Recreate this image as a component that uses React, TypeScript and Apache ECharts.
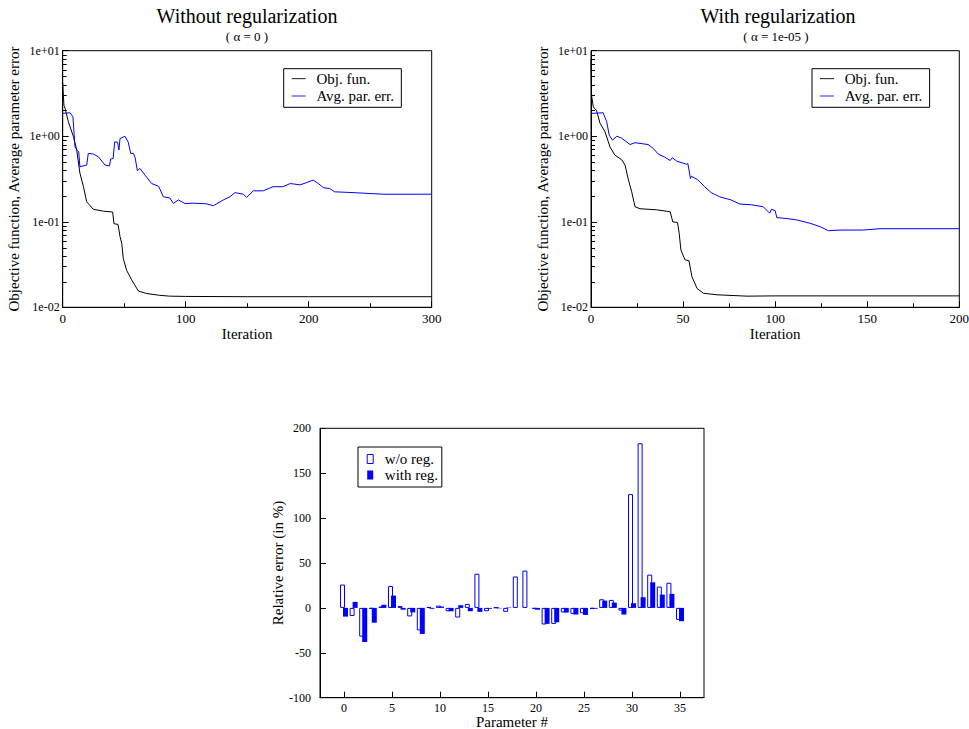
import React, { useEffect, useRef } from 'react';
import * as echarts from 'echarts';

const FONT = '"Liberation Serif", "Times New Roman", Times, serif';

// ---- Top-left: without regularization ----
const objIterA = [0, 1, 2, 4.6, 8.6, 11.4, 14, 16.8, 19.5, 24.9, 33, 40.6, 41.7, 45, 46.6, 48, 49.3, 52, 56, 61.5, 68, 79, 87, 100, 150, 200, 300];
const objValA = [4.2, 2.3, 2.1, 1.48, 1.0, 0.69, 0.37, 0.26, 0.171, 0.14, 0.133, 0.13, 0.095, 0.093, 0.067, 0.056, 0.037, 0.027, 0.021, 0.0155, 0.0145, 0.0138, 0.0135, 0.0134, 0.0133, 0.0133, 0.0133];
const errIterA = [0, 6, 8.3, 10, 11.9, 13, 14, 19.5, 20.8, 24.9, 29, 34.4, 38, 39, 41, 42.3, 44.6, 45.7, 46.6, 50.6, 53.3, 55.3, 57.5, 58.9, 60.7, 62.8, 67, 72.3, 78, 81.8, 87, 90, 94, 99.5, 106, 117, 122.5, 130.6, 136, 140, 146.8, 149.6, 155, 163, 171, 179, 185, 193, 198, 203.7, 207.8, 212, 217, 221, 233.6, 260.6, 300];
const errValA = [1.85, 1.88, 1.69, 0.75, 0.68, 0.66, 0.44, 0.46, 0.63, 0.62, 0.575, 0.46, 0.45, 0.54, 0.55, 0.86, 0.85, 0.69, 0.94, 1.0, 0.85, 0.63, 0.63, 0.56, 0.395, 0.42, 0.35, 0.28, 0.26, 0.196, 0.19, 0.164, 0.18, 0.163, 0.165, 0.162, 0.154, 0.18, 0.196, 0.219, 0.21, 0.193, 0.23, 0.23, 0.257, 0.257, 0.28, 0.27, 0.286, 0.307, 0.28, 0.25, 0.245, 0.224, 0.22, 0.21, 0.21];

// ---- Top-right: with regularization ----
const objIterB = [0, 0.3, 1.25, 3, 4.9, 7.6, 10.3, 13, 16.7, 18.5, 20.3, 22.1, 23.9, 26.6, 35.6, 43, 44.4, 47, 47.9, 48.8, 51, 53.2, 54.8, 57.6, 61, 68.5, 84.7, 100, 200];
const objValB = [8, 3.0, 2.2, 2.0, 1.42, 1.13, 0.75, 0.6, 0.53, 0.46, 0.31, 0.224, 0.15, 0.142, 0.138, 0.131, 0.1, 0.098, 0.073, 0.047, 0.036, 0.035, 0.0228, 0.0166, 0.0146, 0.014, 0.0135, 0.0136, 0.0136];
const errIterB = [0, 6.6, 8.5, 9.9, 11.7, 14, 16.6, 21.2, 23.9, 31, 33.8, 36.5, 40, 43, 44.2, 46.6, 52, 52.6, 54, 54.5, 58, 61.7, 65.3, 69.8, 76, 80.9, 87, 93.5, 97, 98, 100, 100.9, 108, 111.7, 119, 124.5, 128.9, 135.2, 147.9, 157, 200];
const errValB = [1.85, 1.88, 1.48, 1.03, 0.9, 1.0, 0.95, 0.8, 0.84, 0.8, 0.72, 0.62, 0.57, 0.52, 0.56, 0.51, 0.47, 0.48, 0.32, 0.34, 0.31, 0.257, 0.219, 0.196, 0.18, 0.161, 0.158, 0.15, 0.126, 0.14, 0.135, 0.112, 0.108, 0.105, 0.096, 0.0875, 0.0786, 0.08, 0.08, 0.083, 0.083];

// ---- Bottom: relative error per parameter ----
const paramIds = [0, 1, 2, 3, 4, 5, 6, 7, 8, 9, 10, 11, 12, 13, 14, 15, 16, 17, 18, 19, 20, 21, 22, 23, 24, 25, 26, 27, 28, 29, 30, 31, 32, 33, 34, 35];
const woReg = [26, -9, -32, -1, 1.5, 24.4, 2, -9.5, -25, 1, 2.5, -3.7, -10.7, 4.4, 38, -3.7, 0.5, -4.4, 35, 41.5, -1, -18.5, -17.8, -5, -6.7, -6, -1, 9.6, 8.9, -3, 126.7, 183.3, 37, 23.7, 28, -13.3];
const withReg = [-9.7, 6.7, -38, -16.5, 3.5, 13.7, -2, -5, -29, -1, 1.5, -3.7, 3, -3.7, -4.4, -1, -0.5, 0.5, 0, 0, -2, -17.8, -16, -5.2, -7.4, -7.8, -1, 8.1, 5.9, -7.4, 5.2, 11.9, 28.5, 14.8, 15.6, -14.8];
const catMin = -2;
const catMax = 37;

// minor tick values of the log axes (2..9 within each decade)
const logMinorValues = [0.02, 0.03, 0.04, 0.05, 0.06, 0.07, 0.08, 0.09, 0.2, 0.3, 0.4, 0.5, 0.6, 0.7, 0.8, 0.9, 2, 3, 4, 5, 6, 7, 8, 9];

const pairs = (xs: number[], ys: number[]) => xs.map((x, i) => [x, ys[i]]);

const cats: string[] = [];
for (let c = catMin; c <= catMax; c++) cats.push(String(c));
const barData = (vals: number[]) =>
  cats.map((c) => {
    const idx = paramIds.indexOf(Number(c));
    return idx >= 0 ? vals[idx] : '-';
  });

const fmtExp = (v: number) => {
  const e = Math.round(Math.log10(v));
  return '1e' + (e < 0 ? '-' : '+') + String(Math.abs(e)).padStart(2, '0');
};

const txt = (size: number) => ({ fontFamily: FONT, fontSize: size, color: '#000', fontWeight: 'normal' as const });
const black = { color: '#000', width: 1 };

const GRID_A = { left: 62.7, top: 50.7, width: 369, height: 256.6 };
const GRID_B = { left: 591, top: 50.7, width: 368.3, height: 256.6 };
const GRID_C = { left: 320, top: 428.3, width: 384, height: 269.4 };

function lineAxes(g: number, xMax: number, xInt: number) {
  const x = {
    type: 'value', gridIndex: g, min: 0, max: xMax, interval: xInt,
    axisLine: { show: true, onZero: false, lineStyle: black },
    axisTick: { show: true, inside: true, length: 6, lineStyle: black },
    minorTick: { show: true, splitNumber: 2, length: 4, lineStyle: black },
    axisLabel: { ...txt(13), margin: 5 },
    splitLine: { show: false }, minorSplitLine: { show: false },
    name: 'Iteration', nameLocation: 'middle', nameGap: 15, nameTextStyle: txt(15),
  };
  const y = {
    type: 'log', logBase: 10, gridIndex: g, min: 0.01, max: 10,
    axisLine: { show: true, onZero: false, lineStyle: black },
    axisTick: { show: true, inside: true, length: 6, lineStyle: black },
    axisLabel: { ...txt(12), margin: 3, formatter: fmtExp },
    splitLine: { show: false },
    name: 'Objective function, Average parameter error', nameLocation: 'middle', nameGap: 41, nameRotate: 90,
    nameTextStyle: txt(15),
  };
  return { x, y };
}

export default function App() {
  const ref = useRef<HTMLDivElement>(null);
  useEffect(() => {
    if (!ref.current) return;
    const chart = echarts.init(ref.current, null, { renderer: 'svg' });
    const A = lineAxes(0, 300, 100);
    const B = lineAxes(1, 200, 50);
    const catShow = (_i: number, v: string) => {
      const n = Number(v);
      return n >= 0 && n <= 35 && n % 5 === 0;
    };
    const lineIcon = 'path://M0,0H16V1H0Z';
    const lineLegend = (left: number) => ({
      left, top: 68.7, orient: 'vertical', selectedMode: false,
      borderColor: '#000', borderWidth: 1, padding: [2.5, 7.3, 3.8, 8], itemGap: 2.3,
      itemWidth: 14, itemHeight: 1.2,
      textStyle: { ...txt(15), padding: [0, 0, 0, 5.7] },
      data: [
        { name: 'Obj. fun.', icon: lineIcon, itemStyle: { color: '#000', borderWidth: 0 } },
        { name: 'Avg. par. err.', icon: lineIcon, itemStyle: { color: '#0000ff', borderWidth: 0 } },
      ],
    });
    const gridBase = { show: true, borderColor: '#000', borderWidth: 1, backgroundColor: 'transparent', containLabel: false, outerBoundsMode: 'none' };
    const option: any = {
      animation: false,
      backgroundColor: '#fff',
      title: [
        { text: 'Without regularization', left: 247, top: 6, textAlign: 'center', padding: 0, textStyle: txt(20) },
        { text: '( α = 0 )', left: 247, top: 30, textAlign: 'center', padding: 0, textStyle: txt(13) },
        { text: 'With regularization', left: 778, top: 6, textAlign: 'center', padding: 0, textStyle: txt(20) },
        { text: '( α = 1e-05 )', left: 776, top: 30, textAlign: 'center', padding: 0, textStyle: txt(13) },
      ],
      grid: [
        { ...GRID_A, ...gridBase },
        { ...GRID_B, ...gridBase },
        { ...GRID_C, ...gridBase },
      ],
      xAxis: [
        A.x, B.x,
        {
          type: 'category', gridIndex: 2, data: cats, boundaryGap: true,
          axisLine: { show: true, onZero: false, lineStyle: black },
          axisTick: { show: true, inside: true, length: 6, alignWithLabel: true, interval: catShow, lineStyle: black },
          axisLabel: { ...txt(12), margin: 4, interval: catShow },
          splitLine: { show: false },
          name: 'Parameter #', nameLocation: 'middle', nameGap: 15, nameTextStyle: txt(15),
        },
      ],
      yAxis: [
        A.y, B.y,
        {
          type: 'value', gridIndex: 2, min: -100, max: 200, interval: 50,
          axisLine: { show: true, onZero: false, lineStyle: black },
          axisTick: { show: true, inside: true, length: 6, lineStyle: black },
          axisLabel: { ...txt(12), margin: 9 },
          splitLine: { show: false },
          name: 'Relative error (in %)', nameLocation: 'middle', nameGap: 33, nameRotate: 90, nameTextStyle: txt(15),
        },
      ],
      legend: [
        lineLegend(283.7),
        lineLegend(812),
        {
          left: 358, top: 447, orient: 'vertical', selectedMode: false,
          borderColor: '#000', borderWidth: 1, padding: [4.5, 3.7, 4.5, 8.7], itemGap: 1,
          itemWidth: 6, itemHeight: 9, icon: 'rect',
          textStyle: { ...txt(15), padding: [0, 0, 0, 6.6] },
          data: [
            { name: 'w/o reg.', itemStyle: { color: '#fff', borderColor: '#0000ff', borderWidth: 1 } },
            { name: 'with reg.', itemStyle: { color: '#0000ff', borderWidth: 0 } },
          ],
        },
      ],
      series: [
        { type: 'line', name: 'Obj. fun.', xAxisIndex: 0, yAxisIndex: 0, data: pairs(objIterA, objValA), symbol: 'none', lineStyle: { color: '#000', width: 1 }, itemStyle: { color: '#000' } },
        { type: 'line', name: 'Avg. par. err.', xAxisIndex: 0, yAxisIndex: 0, data: pairs(errIterA, errValA), symbol: 'none', lineStyle: { color: '#0000ff', width: 1 }, itemStyle: { color: '#0000ff' } },
        { type: 'line', name: 'Obj. fun.', xAxisIndex: 1, yAxisIndex: 1, data: pairs(objIterB, objValB), symbol: 'none', lineStyle: { color: '#000', width: 1 }, itemStyle: { color: '#000' } },
        { type: 'line', name: 'Avg. par. err.', xAxisIndex: 1, yAxisIndex: 1, data: pairs(errIterB, errValB), symbol: 'none', lineStyle: { color: '#0000ff', width: 1 }, itemStyle: { color: '#0000ff' } },
        { type: 'bar', name: 'w/o reg.', xAxisIndex: 2, yAxisIndex: 2, data: barData(woReg), barWidth: 5, barGap: '-40%', itemStyle: { color: '#fff', borderColor: '#0000ff', borderWidth: 1 } },
        { type: 'bar', name: 'with reg.', xAxisIndex: 2, yAxisIndex: 2, data: barData(withReg), barWidth: 5, barGap: '-40%', itemStyle: { color: '#0000ff', borderWidth: 0 } },
      ],
    };
    chart.setOption(option);

    // minor ticks of the log axes, positioned through the axes' own scale
    const minorTicks: any[] = [];
    [[0, GRID_A.left], [1, GRID_B.left]].forEach(([axisIdx, gx]) => {
      logMinorValues.forEach((v) => {
        const py = chart.convertToPixel({ yAxisIndex: axisIdx }, v) as unknown as number;
        if (typeof py === 'number' && isFinite(py)) {
          const y = Math.round(py) + 0.5;
          minorTicks.push({
            type: 'line', silent: true,
            shape: { x1: gx, y1: y, x2: gx + 4, y2: y },
            style: { stroke: '#000', lineWidth: 1 },
          });
        }
      });
    });
    chart.setOption({ graphic: minorTicks });
    return () => chart.dispose();
  }, []);
  return <div ref={ref} style={{ position: 'fixed', left: 0, top: 0, width: 969, height: 729, background: '#fff' }} />;
}
